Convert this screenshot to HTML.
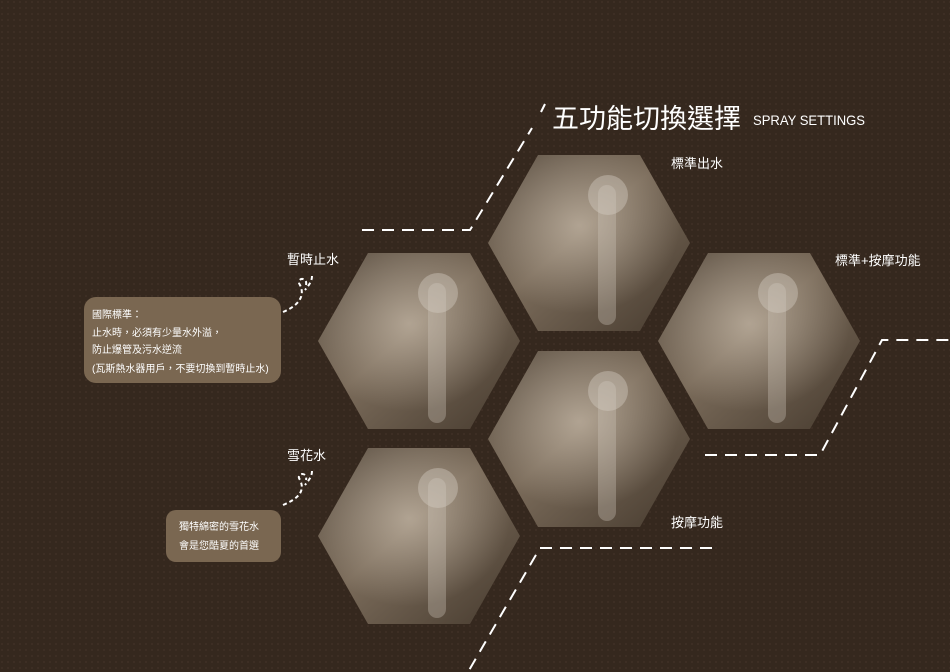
<!DOCTYPE html>
<html><head><meta charset="utf-8"><style>
body{margin:0;width:950px;height:672px;overflow:hidden;background:#35281e}
svg{display:block}
text{font-family:"Liberation Sans","Noto Sans CJK TC",sans-serif;fill:#fff}
</style></head><body>
<svg width="950" height="672" viewBox="0 0 950 672">
<defs>
<linearGradient id="ph" x1="0" y1="0" x2="1" y2="1">
<stop offset="0" stop-color="#5e5245"/><stop offset="0.45" stop-color="#7a6b5a"/><stop offset="1" stop-color="#45392d"/>
</linearGradient>
<radialGradient id="sp" cx="0.45" cy="0.4" r="0.5">
<stop offset="0" stop-color="#e8dccb" stop-opacity="0.5"/><stop offset="1" stop-color="#e8dccb" stop-opacity="0"/>
</radialGradient>
<pattern id="tx" width="6" height="6" patternUnits="userSpaceOnUse">
<rect width="6" height="6" fill="#35281e"/><circle cx="2" cy="2" r="1" fill="#3f3025"/>
</pattern>
<g id="hx"><polygon points="0,88 50,0 152,0 202,88 152,176 50,176" fill="url(#ph)"/>
<polygon points="0,88 50,0 152,0 202,88 152,176 50,176" fill="url(#sp)"/>
<rect x="110" y="30" width="18" height="140" rx="9" fill="#cfc6bb" opacity="0.35"/>
<circle cx="120" cy="40" r="20" fill="#d8d0c6" opacity="0.4"/></g>
</defs>
<rect width="950" height="672" fill="url(#tx)"/>
<g stroke="#fff" stroke-width="2" stroke-dasharray="12,8" fill="none">
<path d="M362,230 H470 L532,128"/>
<path d="M705,455 H820 L882,340 H950"/>
<path d="M712,548 H540 L468,672"/>
</g>
<path d="M545,104 L541,112" stroke="#fff" stroke-width="2"/>
<use href="#hx" x="488" y="155"/>
<use href="#hx" x="318" y="253"/>
<use href="#hx" x="658" y="253"/>
<use href="#hx" x="488" y="351"/>
<use href="#hx" x="318" y="448"/>
<text x="552" y="128" font-size="27">五功能切換選擇</text>
<text x="753" y="125" font-size="14" font-family="Liberation Mono,monospace" textLength="112" lengthAdjust="spacingAndGlyphs">SPRAY SETTINGS</text>
<text x="671" y="168" font-size="13">標準出水</text>
<text x="287" y="264" font-size="13">暫時止水</text>
<text x="835" y="265" font-size="13">標準+按摩功能</text>
<text x="287" y="460" font-size="13">雪花水</text>
<text x="671" y="527" font-size="13">按摩功能</text>
<g stroke="#fff" stroke-width="2" stroke-dasharray="4,3" fill="none">
<path d="M283,312 C300,305 305,295 300,285 C295,278 308,276 306,285 M312,276 C312,282 308,286 305,290"/>
<path d="M283,505 C300,498 305,490 300,480 C295,473 308,471 306,480 M312,471 C312,477 308,481 305,485"/>
</g>
<rect x="84" y="297" width="197" height="86" rx="12" fill="#7a6751"/>
<text x="92" y="318" font-size="10">國際標準：</text>
<text x="92" y="336" font-size="10">止水時，必須有少量水外溢，</text>
<text x="92" y="353" font-size="10">防止爆管及污水逆流</text>
<text x="92" y="372" font-size="10">(瓦斯熱水器用戶，不要切換到暫時止水)</text>
<rect x="166" y="510" width="115" height="52" rx="10" fill="#7a6751"/>
<text x="179" y="530" font-size="10">獨特綿密的雪花水</text>
<text x="179" y="549" font-size="10">會是您酷夏的首選</text>
</svg>
</body></html>
